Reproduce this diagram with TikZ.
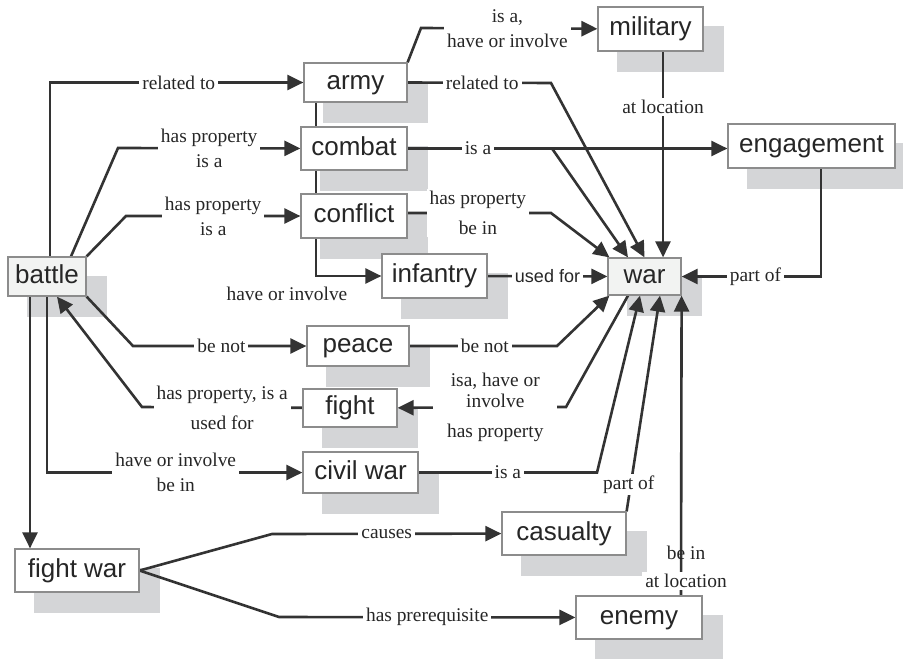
\documentclass[tikz,border=0pt]{standalone}
\usepackage{fontspec}
\setmainfont{Liberation Serif}
\setsansfont{Liberation Sans}
\usetikzlibrary{arrows.meta}
\definecolor{linegray}{HTML}{333333}
\definecolor{boxgray}{HTML}{8C8C8C}
\definecolor{shadowgray}{HTML}{D4D5D7}
\definecolor{lightbox}{HTML}{F2F3F2}
\pgfdeclarelayer{back}
\pgfdeclarelayer{front}
\pgfsetlayers{back,main,front}

\begin{document}
\begin{tikzpicture}[
        x=0.5pt, y=-0.5pt,
        term/.style={
            rectangle,
            draw=boxgray,
            line width=0.6pt,
            fill=white,
            minimum height=21.5pt,
            text height=9.3pt,
            text depth=2.7pt,
            inner sep=0pt,
            text=black!85,
            font=\sffamily\fontsize{13}{15}\selectfont
        },
        relation/.style={
            draw=linegray,
            line width=1.3pt,
            -{Triangle[length=8pt, width=7.5pt]}
        },
        rlabel/.style={
            fill=white,
            inner xsep=1.5pt,
            inner ysep=1pt,
            align=center,
            text=black!85,
            font=\rmfamily\fontsize{9.7}{12.5}\selectfont
        }
    ]
    \useasboundingbox (0,0) rectangle (903,658);

    \begin{pgfonlayer}{front}
    \node[term, fill=lightbox, minimum width=39pt, minimum height=19.5pt] (battle) at (47,276.5) {battle};
    \node[term, minimum width=51.5pt, minimum height=19.5pt] (army) at (355.5,82.5) {army};
    \node[term, minimum width=53pt] (combat) at (354,148.5) {combat};
    \node[term, minimum width=53pt, minimum height=22pt] (conflict) at (354,216) {conflict};
    \node[term, minimum width=52.5pt, minimum height=22pt] (infantry) at (434.5,276) {infantry};
    \node[term, minimum width=52.5pt, minimum height=22pt] (military) at (650.5,29) {military};
    \node[term, minimum width=83.5pt, minimum height=22pt] (engagement) at (811.5,146) {engagement};
    \node[term, fill=lightbox, minimum width=36.5pt, minimum height=18.5pt] (war) at (644.5,276.5) {war};
    \node[term, minimum width=51pt, minimum height=20pt] (peace) at (358,346) {peace};
    \node[term, minimum width=47pt, minimum height=19pt] (fight) at (350,408) {fight};
    \node[term, minimum width=57.5pt, minimum height=20.5pt] (civilwar) at (360.5,472.5) {civil war};
    \node[term, minimum width=62pt] (fightwar) at (77,570.5) {fight war};
    \node[term, minimum width=62pt] (casualty) at (564,533.5) {casualty};
    \node[term, minimum width=63pt] (enemy) at (639,617.5) {enemy};
    \end{pgfonlayer}

    % shadows
    \begin{pgfonlayer}{back}
    \foreach \n in {battle,army,combat,conflict,infantry,military,engagement,war,peace,fight,civilwar,fightwar,casualty,enemy}
        \fill[shadowgray] ([shift={(10pt,-10pt)}]\n.south west) rectangle ([shift={(10pt,-10pt)}]\n.north east);
    \end{pgfonlayer}

    % from battle
    \draw[relation] ([xshift=1.5pt]battle.north) |- node[rlabel, pos=0.754] {related to} (army);
    \draw[relation] ([xshift=12pt]battle.north) -- (118,148) -- node[rlabel] {has property\\is a} (combat);
    \draw[relation] (battle.north east) -- (126,216) -- node[rlabel] {has property\\is a} (conflict);
    \draw[relation] (battle.south east) -- (133,346) -- node[rlabel, pos=0.51] {be not} (peace);
    \draw[relation] (battle.south) |- node[rlabel, pos=0.752] {have or involve\\be in} (civilwar);
    \draw[relation] ([xshift=-8.5pt]battle.south) -- ([xshift=-8.5pt]battle.south |- fightwar.north);

    % from army
    \draw[relation] (army.north east) -- (421,28) -- node[rlabel, pos=0.49] {is a,\\have or involve} (military);
    \draw[relation] (army.east) -- node[rlabel, pos=0.52] {related to} (551,83) -- (war.north);
    \draw[relation] ([xshift=-19.75pt]army.south) |- node[rlabel, pos=0.5, xshift=-14.5pt, yshift=-9pt] {have or involve} (infantry);

    % from combat and conflict
    \draw[relation] (combat.east) -- (552,148.5) -- ([xshift=-8.25pt]war.north);
    \draw[relation] (combat.east) -- node[rlabel, pos=0.22] {is a} (combat.east -| engagement.west);
    \draw[relation] ([yshift=1.5pt]conflict.east) -- node[rlabel, pos=0.49] {has property\\[2.5pt]be in} (551,213) -- ([xshift=1pt]war.north west);

    % into war
    \draw[relation] ([xshift=6.25pt]military.south) -- node[rlabel, pos=0.27] {at location} ([xshift=9.25pt]war.north);
    \draw[relation] (infantry) -- node[rlabel, font=\sffamily\fontsize{9}{11}\selectfont] {used for} (war);
    \draw[relation] ([xshift=4.75pt]engagement.south) |- node[rlabel, pos=0.735] {part of} (war);
    \draw[relation] (peace.east) -- node[rlabel, pos=0.51] {be not} (557,346) -- ([xshift=1pt]war.south west);
    \draw[relation] (civilwar.east) -- node[rlabel, pos=0.5] {is a} (597,472.5) -- ([xshift=-2.25pt]war.south);
    \draw[relation] (casualty.north east) -- node[rlabel, pos=0.125, xshift=-1pt] {part of} ([xshift=7.75pt]war.south);
    \draw[relation] ([xshift=21pt]enemy.north) -- node[rlabel, pos=0.047, xshift=2.5pt] {at location}
        node[rlabel, fill=none, pos=0.143, xshift=2.5pt] {be in} (war.south east);

    % war, fight
    \draw[relation] ([xshift=-8.25pt]war.south) -- (566,407) -- node[rlabel, pos=0.42, inner xsep=7pt] {isa, have or\\[-1.7pt]involve\\[2.3pt]has property} (fight);
    \draw[relation] (fight) -- node[rlabel, pos=0.5] {has property, is a\\[2.5pt]used for} (142,407) -- ([xshift=5pt]battle.south);

    % from fight war
    \draw[relation] (fightwar.east) -- (272,534) -- node[rlabel, pos=0.5] {causes} (casualty);
    \draw[relation] (fightwar.east) -- (279,617) -- node[rlabel, pos=0.5] {has prerequisite} (enemy);
\end{tikzpicture}
\end{document}
